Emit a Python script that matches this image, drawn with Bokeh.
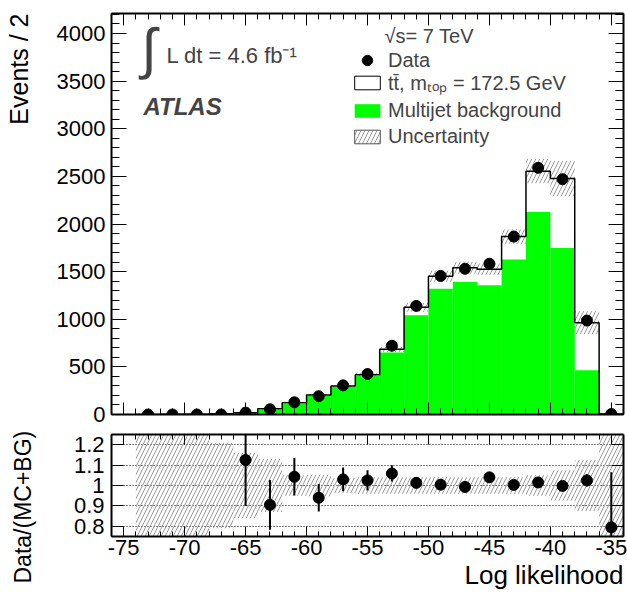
import math
from bokeh.plotting import figure
from bokeh.models import (Range1d, LinearAxis, Label, Legend, LegendItem, ColumnDataSource,
                          FixedTicker, CustomJSTickFormatter, Title)
from bokeh.layouts import column
from bokeh.embed import file_html
from bokeh.resources import INLINE

FONT = "Liberation Sans"

# ---------------- data ----------------
bin_centers = [-73, -71, -69, -67, -65, -63, -61, -59, -57, -55,
               -53, -51, -49, -47, -45, -43, -41, -39, -37, -35]
mc_total = [1, 2, 3, 7, 18, 61, 123, 205, 298, 417,
            684, 1125, 1451, 1542, 1525, 1868, 2555, 2478, 964, 6]
multijet = [1, 1, 2, 5, 15, 50, 110, 193, 288, 405,
            651, 1043, 1320, 1390, 1358, 1628, 2125, 1747, 465, 3]
data_counts = [0, 0, 0, 0, 20, 55, 128, 192, 306, 425,
               722, 1140, 1455, 1530, 1583, 1868, 2590, 2470, 986, 5]
band_rel = [1.0, 1.0, 1.0, 0.21, 0.16, 0.13, 0.05, 0.053, 0.037, 0.04,
            0.04, 0.04, 0.04, 0.04, 0.04, 0.04, 0.05, 0.075, 0.125, 1.0]

ratio_x = [-65, -63, -61, -59, -57, -55, -53, -51, -49, -47, -45, -43, -41, -39, -37, -35]
ratio_val = [1.125, 0.905, 1.043, 0.94, 1.03, 1.025, 1.059, 1.013, 1.004, 0.993,
             1.04, 1.003, 1.015, 0.998, 1.025, 0.795]
ratio_err = [0.225, 0.122, 0.092, 0.067, 0.058, 0.05, 0.04, 0.028, 0.025, 0.025,
             0.024, 0.022, 0.02, 0.02, 0.03, 0.27]

x_major = [-75, -70, -65, -60, -55, -50, -45, -40, -35]
x_minor = list(range(-76, -33))
y_major = [0, 500, 1000, 1500, 2000, 2500, 3000, 3500, 4000]
y_minor = list(range(0, 4201, 100))
r_major = [0.8, 0.9, 1.0, 1.1, 1.2]

# ---------------- derived ----------------
bin_left = [c - 1 for c in bin_centers]
bin_right = [c + 1 for c in bin_centers]
step_x = bin_left + [bin_right[-1]]
step_y = mc_total + [mc_total[-1]]
band_lo = [m * (1 - r) for m, r in zip(mc_total, band_rel)]
band_hi = [m * (1 + r) for m, r in zip(mc_total, band_rel)]
rband_lo = [1 - r for r in band_rel]
rband_hi = [1 + r for r in band_rel]
err_lo = [v - e for v, e in zip(ratio_val, ratio_err)]
err_hi = [v + e for v, e in zip(ratio_val, ratio_err)]

HATCH = dict(hatch_pattern="/", hatch_color="#9a9a9a", hatch_scale=8, hatch_weight=1)


def style_axis(ax, major_in, minor_in, labels=True, standoff=6):
    ax.axis_line_width = 2
    ax.axis_line_color = "black"
    ax.major_tick_in = major_in
    ax.major_tick_out = 0
    ax.minor_tick_in = minor_in
    ax.minor_tick_out = 0
    ax.major_tick_line_width = 1
    ax.minor_tick_line_width = 1
    ax.major_label_text_font = FONT
    ax.major_label_text_font_size = "22px"
    ax.major_label_text_color = "black"
    ax.major_label_standoff = standoff
    if not labels:
        ax.major_label_text_font_size = "0px"
        ax.formatter = CustomJSTickFormatter(code="return ''")
        ax.major_label_standoff = 0


def side_title(fig, text, side, align, size, standoff, offset=0, valign="bottom"):
    fig.add_layout(Title(text=text, align=align, vertical_align=valign, text_font=FONT,
                         text_font_size=size, text_font_style="normal", text_color="black",
                         standoff=standoff, offset=offset), side)


def spacer(fig, side, gap):
    fig.add_layout(Title(text=" ", text_font_size="1px", standoff=gap), side)


# ---------------- main panel ----------------
p = figure(width=627, height=428, x_range=Range1d(-76, -34), y_range=Range1d(0, 4210),
           output_backend="svg", toolbar_location=None,
           min_border_left=111, min_border_right=4, min_border_top=13, min_border_bottom=14)
p.outline_line_color = None
p.grid.visible = False
p.background_fill_color = "white"
p.border_fill_color = "white"

xt = FixedTicker(ticks=x_major, minor_ticks=x_minor)
yt = FixedTicker(ticks=y_major, minor_ticks=y_minor)
p.xaxis.ticker = xt
p.yaxis.ticker = yt
style_axis(p.xaxis[0], 12, 6, labels=False)
style_axis(p.yaxis[0], 15, 8, labels=True, standoff=6)
p.yaxis[0].formatter = CustomJSTickFormatter(code="return tick.toFixed(0)")
top_ax = LinearAxis(ticker=xt)
style_axis(top_ax, 12, 6, labels=False)
p.add_layout(top_ax, "above")
right_ax = LinearAxis(ticker=yt)
style_axis(right_ax, 15, 8, labels=False)
p.add_layout(right_ax, "right")
spacer(p, "left", 16)
side_title(p, "Events / 2", "left", "right", "25px", standoff=0, valign="top")

r_green = p.quad(left=bin_left, right=bin_right, bottom=0, top=multijet,
                 fill_color="#00ff00", line_color=None)
p.quad(left=bin_left, right=bin_right, bottom=band_lo, top=band_hi,
       fill_color=None, line_color=None, **HATCH)
p.step(x=step_x, y=step_y, mode="after", line_color="black", line_width=1.5)
r_data = p.scatter(x=bin_centers, y=data_counts, size=11, color="black")

# legend proxies (not drawn in the frame: NaN coordinates)
nan = float("nan")
proxy = dict(left=[nan], right=[nan], bottom=[nan], top=[nan])
r_tt = p.quad(source=ColumnDataSource(dict(proxy)), left="left", right="right",
              bottom="bottom", top="top", fill_color="white", line_color="black", line_width=1)
r_unc = p.quad(source=ColumnDataSource(dict(proxy)), left="left", right="right",
               bottom="bottom", top="top", fill_color=None, line_color="#555555",
               line_width=1, **HATCH)

leg_common = dict(border_line_color=None, background_fill_alpha=0, padding=0, margin=0,
                  label_text_font=FONT, label_text_font_size="20px", label_standoff=5,
                  glyph_width=32, spacing=3)
leg1 = Legend(items=[LegendItem(label="Data", renderers=[r_data])],
              location=(240, 341), glyph_height=26, label_height=26, **leg_common)
leg2 = Legend(items=[LegendItem(label="tt\u0304, m\u209c\u2092\u209a = 172.5 GeV", renderers=[r_tt]),
                     LegendItem(label="Multijet background", renderers=[r_green]),
                     LegendItem(label="Uncertainty", renderers=[r_unc])],
              location=(240, 266), glyph_height=17, label_height=22, **leg_common)
p.add_layout(leg1, "center")
p.add_layout(leg2, "center")

p.add_layout(Label(x=30, y=366, x_units="screen", y_units="screen", text="\u222b",
                   text_font=FONT, text_font_size="56px", text_baseline="middle"))
p.add_layout(Label(x=55, y=359, x_units="screen", y_units="screen",
                   text="L dt = 4.6 fb\u207b\u00b9", text_font=FONT, text_font_size="22px",
                   text_baseline="alphabetic"))
p.add_layout(Label(x=32, y=308, x_units="screen", y_units="screen", text="ATLAS",
                   text_font=FONT, text_font_size="24px", text_font_style="bold italic",
                   text_baseline="alphabetic"))
p.add_layout(Label(x=273, y=379, x_units="screen", y_units="screen", text="\u221as= 7 TeV",
                   text_font=FONT, text_font_size="20px", text_baseline="alphabetic"))

# ---------------- ratio panel ----------------
q = figure(width=627, height=168, x_range=p.x_range, y_range=Range1d(0.75, 1.25),
           output_backend="svg", toolbar_location=None,
           min_border_left=111, min_border_right=4, min_border_top=6, min_border_bottom=60)
q.outline_line_color = None
q.background_fill_color = "white"
q.border_fill_color = "white"
q.xgrid.visible = False
rt = FixedTicker(ticks=r_major, minor_ticks=[])
q.xaxis.ticker = xt
q.yaxis.ticker = rt
q.ygrid.ticker = rt
q.ygrid.grid_line_color = "black"
q.ygrid.grid_line_dash = "1 2"
q.ygrid.grid_line_width = 1
style_axis(q.xaxis[0], 10, 5, labels=True, standoff=3)
q.xaxis[0].formatter = CustomJSTickFormatter(code="return tick.toFixed(0)")
style_axis(q.yaxis[0], 12, 6, labels=True, standoff=7)
q.yaxis[0].formatter = CustomJSTickFormatter(
    code="return Math.abs(tick - 1) < 1e-9 ? '1' : tick.toFixed(1)")
qtop = LinearAxis(ticker=xt)
style_axis(qtop, 10, 5, labels=False)
q.add_layout(qtop, "above")
qright = LinearAxis(ticker=rt)
style_axis(qright, 12, 6, labels=False)
q.add_layout(qright, "right")
spacer(q, "left", 30)
side_title(q, "Data/(MC+BG)", "left", "left", "23px", standoff=0, offset=-47, valign="top")
side_title(q, "Log likelihood", "below", "right", "26px", standoff=0)

q.quad(left=bin_left, right=bin_right, bottom=rband_lo, top=rband_hi,
       fill_color=None, line_color=None, **HATCH)
q.segment(x0=ratio_x, y0=err_lo, x1=ratio_x, y1=err_hi, line_color="black", line_width=2)
q.scatter(x=ratio_x, y=ratio_val, size=11, color="black")

layout = column(p, q, spacing=0)
open("out.html", "w").write(file_html(layout, INLINE))
